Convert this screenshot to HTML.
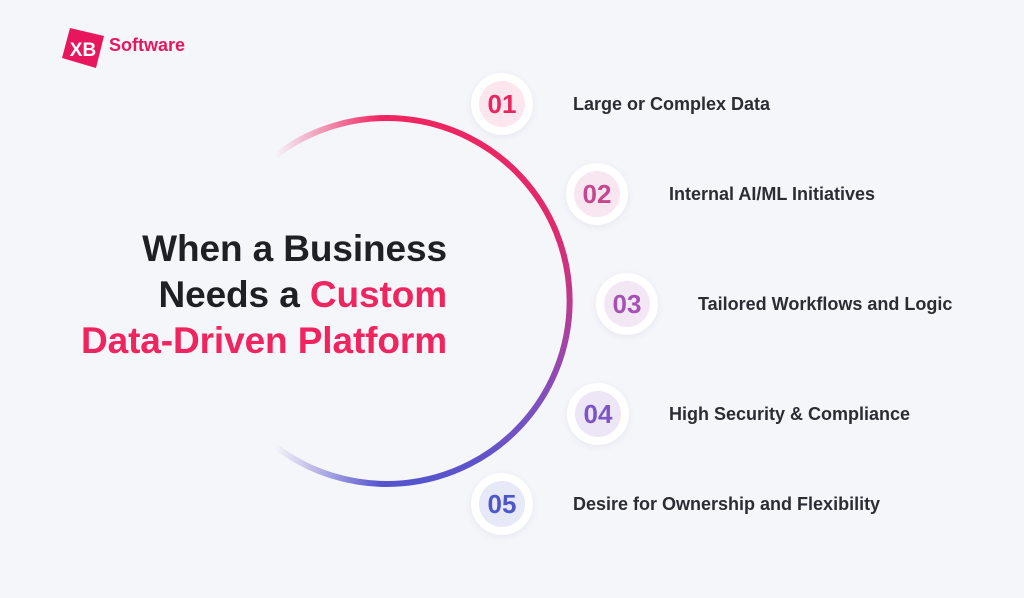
<!DOCTYPE html>
<html><head><meta charset="utf-8"><style>
html,body{margin:0;padding:0}
body{width:1024px;height:598px;background:#f5f6fa;position:relative;overflow:hidden;font-family:"Liberation Sans",Arial,sans-serif}
.title{position:absolute;right:577px;top:226px;text-align:right;font-size:37px;line-height:46px;color:#1f2023;white-space:nowrap;font-weight:bold;letter-spacing:-0.1px}
.pk{color:#f0245e}
.c{position:absolute;width:62px;height:62px;border-radius:50%;background:#fff;box-shadow:0 2px 8px rgba(60,60,120,.07)}
.c span{position:absolute;left:8px;top:8px;width:46px;height:46px;border-radius:50%;text-align:center;line-height:46px;font-size:26px;font-weight:bold}
.t{position:absolute;font-size:18px;color:#2a2d33;white-space:nowrap;font-weight:bold}
</style></head><body>
<svg style="position:absolute;left:62px;top:28px" width="44" height="42" viewBox="0 0 44 42"><polygon points="8,0 42,8 34,40 0,30" fill="#e8175d"/><text x="21" y="28" font-family="Liberation Sans,sans-serif" font-size="19" font-weight="bold" fill="#fff" text-anchor="middle">XB</text></svg>
<div style="position:absolute;left:109px;top:35px;font-size:18px;color:#e8175d;font-weight:bold">Software</div>

<svg style="position:absolute;left:0;top:0" width="1024" height="598">
<defs>
<linearGradient id="g" x1="0" y1="118" x2="0" y2="484" gradientUnits="userSpaceOnUse">
<stop offset="0" stop-color="#ee2560"/><stop offset="0.3" stop-color="#e02a6e"/><stop offset="0.55" stop-color="#b23e98"/><stop offset="0.8" stop-color="#7a52c2"/><stop offset="1" stop-color="#5554cc"/></linearGradient>
<linearGradient id="f" x1="275" y1="0" x2="380" y2="0" gradientUnits="userSpaceOnUse"><stop offset="0" stop-color="#fff" stop-opacity="0"/><stop offset="1" stop-color="#fff" stop-opacity="1"/></linearGradient>
<mask id="m"><rect x="0" y="0" width="1024" height="598" fill="url(#f)"/></mask>
</defs>
<path d="M 275 156 A 183 183 0 1 1 275 446" fill="none" stroke="url(#g)" stroke-width="6" mask="url(#m)"/>
</svg>

<div class="title">When a Business<br>Needs a <span class="pk">Custom</span><br><span class="pk">Data-Driven Platform</span></div>

<div class="c" style="left:471px;top:73px"><span style="background:#fde6ee;color:#e8265e">01</span></div>
<div class="t" style="left:573px;top:94px">Large or Complex Data</div>
<div class="c" style="left:566px;top:163px"><span style="background:#f8e6f1;color:#c4478f">02</span></div>
<div class="t" style="left:669px;top:184px">Internal AI/ML Initiatives</div>
<div class="c" style="left:596px;top:273px"><span style="background:#f3e6f5;color:#a552b4">03</span></div>
<div class="t" style="left:698px;top:294px">Tailored Workflows and Logic</div>
<div class="c" style="left:567px;top:383px"><span style="background:#ece6f7;color:#7c55c6">04</span></div>
<div class="t" style="left:669px;top:404px">High Security &amp; Compliance</div>
<div class="c" style="left:471px;top:473px"><span style="background:#e7e8f8;color:#4f56cc">05</span></div>
<div class="t" style="left:573px;top:494px">Desire for Ownership and Flexibility</div>
</body></html>
